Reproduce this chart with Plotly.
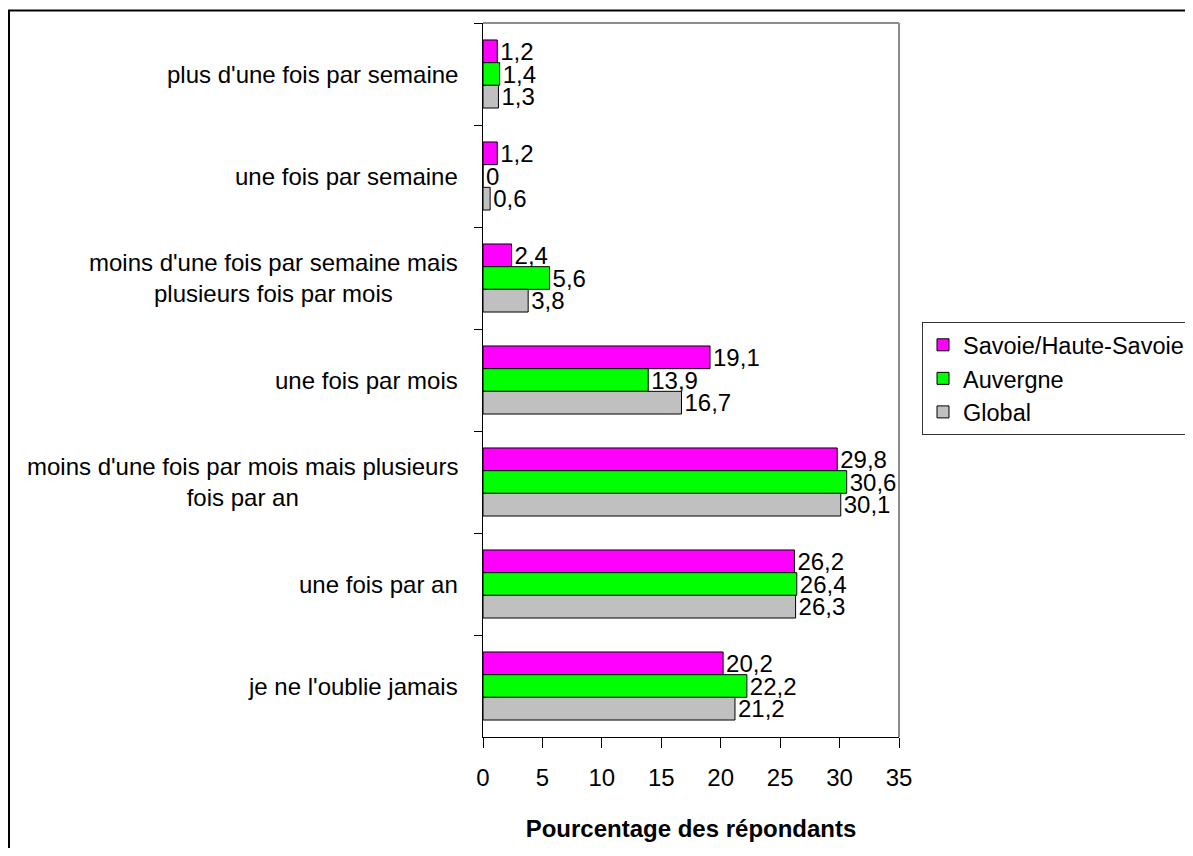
import plotly.graph_objects as go

categories = [
    "plus d'une fois par semaine",
    "une fois par semaine",
    "moins d'une fois par semaine mais<br>plusieurs fois par mois",
    "une fois par mois",
    "moins d'une fois par mois mais plusieurs<br>fois par an",
    "une fois par an",
    "je ne l'oublie jamais",
]
series_names = ["Savoie/Haute-Savoie", "Auvergne", "Global"]
savoie = [1.2, 1.2, 2.4, 19.1, 29.8, 26.2, 20.2]
auvergne = [1.4, 0, 5.6, 13.9, 30.6, 26.4, 22.2]
global_ = [1.3, 0.6, 3.8, 16.7, 30.1, 26.3, 21.2]
colors = ["#FF00FF", "#00FF00", "#C0C0C0"]
x_ticks = [0, 5, 10, 15, 20, 25, 30, 35]
x_title = "Pourcentage des répondants"

FONT = "Liberation Sans, Arial, sans-serif"

def fmt(v):
    return f"{v:g}".replace(".", ",")

fig = go.Figure()
for name, vals, col in zip(series_names, [savoie, auvergne, global_], colors):
    fig.add_trace(go.Bar(
        y=categories, x=vals, name=name, orientation="h",
        marker=dict(color=col, line=dict(color="black", width=1)),
        text=[fmt(v) for v in vals], textposition="outside",
        textfont=dict(size=24, color="black", family=FONT),
        constraintext="none", cliponaxis=False,
    ))

annotations = []
for c in categories:
    annotations.append(dict(
        x=0, xref="paper", y=c, yref="y", xanchor="right", yanchor="middle",
        xshift=-23, text=c, showarrow=False, align="center",
        font=dict(size=24, color="black", family=FONT),
    ))

shapes = [
    # outer chart frame (partially outside the visible page)
    dict(type="rect", xref="paper", yref="paper", x0=-1.1394, y0=-0.5, x1=2.0, y1=1.0175,
         line=dict(color="black", width=2), layer="below"),
    # plot-area border top/right
    dict(type="line", xref="paper", yref="paper", x0=0, y0=1, x1=1, y1=1,
         line=dict(color="#8c8c8c", width=2)),
    dict(type="line", xref="paper", yref="paper", x0=1, y0=0, x1=1, y1=1,
         line=dict(color="#8c8c8c", width=2)),
]

fig.update_layout(
    width=1177, height=840,
    margin=dict(l=475, r=286, t=15, b=111, autoexpand=False),
    paper_bgcolor="white", plot_bgcolor="white",
    barmode="group", bargap=0.333, bargroupgap=0,
    separators=", ",
    font=dict(family=FONT, size=24, color="black"),
    showlegend=True,
    legend=dict(
        x=1.0553, y=0.5812, xanchor="left", yanchor="top",
        bordercolor="#333333", borderwidth=1, bgcolor="white",
        font=dict(size=23.5, family=FONT, color="black"),
        traceorder="normal",
    ),
    annotations=annotations,
    shapes=shapes,
)
fig.update_xaxes(
    range=[0, 35], tickvals=x_ticks, ticks="outside", ticklen=10, tickcolor="black",
    showline=True, linecolor="black", linewidth=1, showgrid=False, zeroline=False,
    tickfont=dict(size=24, family=FONT), ticklabelstandoff=9,
    title=dict(text="<b>" + x_title + "</b>", font=dict(size=24, family=FONT), standoff=30),
)
fig.update_yaxes(
    categoryorder="array", categoryarray=categories, autorange="reversed",
    showticklabels=False, ticks="outside", tickson="boundaries", ticklen=8, tickcolor="black",
    showline=True, linecolor="black", linewidth=1, showgrid=False, zeroline=False,
)

fig.write_html("out.html")
